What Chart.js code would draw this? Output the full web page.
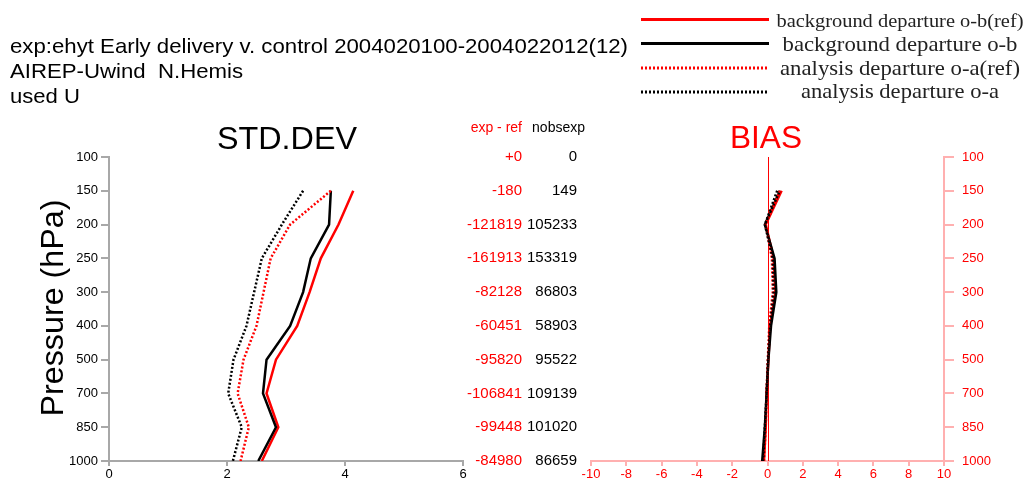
<!DOCTYPE html>
<html lang="en">
<head>
<meta charset="UTF-8">
<title>AIREP-Uwind N.Hemis</title>
<script src="https://cdn.jsdelivr.net/npm/chart.js"></script>
<style>
    body { margin: 0; background: #fff; }
    #wrap { position: relative; width: 1028px; height: 484px; overflow: hidden; }
    #sdChart { position: absolute; left: 0; top: 0; }
    #biasChart { position: absolute; left: 560px; top: 0; }
    #labels { position: absolute; left: 0; top: 0; pointer-events: none; }
    #labels text { white-space: pre; }
</style>
</head>
<body>
<div id="wrap">
    <canvas id="sdChart" width="590" height="484"></canvas>
    <canvas id="biasChart" width="468" height="484"></canvas>
    <svg id="labels" width="1028" height="484" font-family="Liberation Sans, Arial, sans-serif">
        <text x="10" y="53" font-size="21" textLength="618" lengthAdjust="spacingAndGlyphs">exp:ehyt Early delivery v. control 2004020100-2004022012(12)</text>
        <text x="10" y="78" font-size="21" textLength="233" lengthAdjust="spacingAndGlyphs">AIREP-Uwind&#160; N.Hemis</text>
        <text x="10" y="103" font-size="21" textLength="70" lengthAdjust="spacingAndGlyphs">used U</text>

        <line x1="641" y1="19.5" x2="769" y2="19.5" stroke="#ff0000" stroke-width="3"/>
        <line x1="641" y1="43.5" x2="769" y2="43.5" stroke="#000" stroke-width="3"/>
        <line x1="641" y1="68" x2="769" y2="68" stroke="#ff0000" stroke-width="3" stroke-dasharray="2 2"/>
        <line x1="641" y1="92" x2="769" y2="92" stroke="#000" stroke-width="3" stroke-dasharray="2 2"/>
        <g font-family="Liberation Serif, Times New Roman, serif" text-anchor="middle" fill="#222">
            <text x="900" y="27" font-size="19" textLength="247" lengthAdjust="spacingAndGlyphs">background departure o-b(ref)</text>
            <text x="900" y="51" font-size="21" textLength="235" lengthAdjust="spacingAndGlyphs">background departure o-b</text>
            <text x="900" y="75" font-size="21" textLength="240" lengthAdjust="spacingAndGlyphs">analysis departure o-a(ref)</text>
            <text x="900" y="98" font-size="21" textLength="198" lengthAdjust="spacingAndGlyphs">analysis departure o-a</text>
        </g>

        <text x="287" y="149" font-size="32" text-anchor="middle" textLength="140" lengthAdjust="spacingAndGlyphs">STD.DEV</text>
        <text x="766" y="148" font-size="32" text-anchor="middle" fill="#ff0000" textLength="72" lengthAdjust="spacingAndGlyphs">BIAS</text>
        <text transform="translate(63,308) rotate(-90)" font-size="32" text-anchor="middle" textLength="217" lengthAdjust="spacingAndGlyphs">Pressure (hPa)</text>
    </svg>
</div>

<script>
    // pressure levels (top to bottom)
    const levels = ['100', '150', '200', '250', '300', '400', '500', '700', '850', '1000'];

    // standard deviation
    const sdObRef = [null, 4.14, 3.89, 3.59, 3.40, 3.19, 2.83, 2.67, 2.87, 2.59];
    const sdOb    = [null, 3.76, 3.73, 3.42, 3.29, 3.07, 2.67, 2.61, 2.83, 2.53];
    const sdOaRef = [null, 3.76, 3.07, 2.74, 2.62, 2.50, 2.28, 2.18, 2.37, 2.23];
    const sdOa    = [null, 3.29, 2.93, 2.59, 2.46, 2.33, 2.11, 2.02, 2.25, 2.10];

    // bias
    const biasObRef = [null, 0.80, -0.10, 0.35, 0.45, 0.15, 0.05, -0.05, -0.10, -0.20];
    const biasOb    = [null, 0.70, -0.15, 0.40, 0.50, 0.20, 0.05, -0.05, -0.15, -0.30];
    const biasOaRef = [null, 0.70, -0.10, 0.25, 0.30, 0.10, 0.02, -0.05, -0.10, -0.20];
    const biasOa    = [null, 0.55, -0.15, 0.30, 0.35, 0.15, 0.03, -0.05, -0.15, -0.25];

    // observation counts column
    const expMinusRef = ['+0', '-180', '-121819', '-161913', '-82128', '-60451', '-95820', '-106841', '-99448', '-84980'];
    const nobsExp = ['0', '149', '105233', '153319', '86803', '58903', '95522', '109139', '101020', '86659'];

    const RED = '#ff0000';
    const GREY = '#a8a8a8';
    const PINK = '#ffb0b0';
    const tickFont = { family: 'Liberation Sans', size: 13 };

    Chart.defaults.font.family = 'Liberation Sans';

    function toPoints(arr) {
        return arr.map((v, i) => ({ x: v, y: i })).filter(p => p.x !== null);
    }

    function makeSets(obRef, ob, oaRef, oa) {
        const style = (label, data, color, dashed) => ({
            label: label,
            data: toPoints(data),
            borderColor: color,
            borderWidth: 2.5,
            borderDash: dashed ? [2, 2] : [],
            pointRadius: 0,
            tension: 0,
            fill: false
        });
        return [
            style('analysis departure o-a', oa, '#000', true),
            style('analysis departure o-a(ref)', oaRef, RED, true),
            style('background departure o-b', ob, '#000', false),
            style('background departure o-b(ref)', obRef, RED, false)
        ];
    }

    // numbers beside the std.dev panel
    const numbersColumn = {
        id: 'numbersColumn',
        afterDraw(chart) {
            const ctx = chart.ctx;
            const y = chart.scales.y;
            ctx.save();
            ctx.textAlign = 'right';
            ctx.textBaseline = 'middle';
            ctx.font = '14px "Liberation Sans"';
            ctx.fillStyle = RED;
            ctx.fillText('exp - ref', 522, 128);
            ctx.fillStyle = '#000';
            ctx.fillText('nobsexp', 585, 128);
            ctx.font = '15px "Liberation Sans"';
            levels.forEach((lev, i) => {
                const py = y.getPixelForValue(i);
                ctx.fillStyle = RED;
                ctx.fillText(expMinusRef[i], 522, py);
                ctx.fillStyle = '#000';
                ctx.fillText(nobsExp[i], 577, py);
            });
            ctx.restore();
        }
    };

    const zeroLine = {
        id: 'zeroLine',
        beforeDatasetsDraw(chart) {
            const ctx = chart.ctx;
            const a = chart.chartArea;
            const px = Math.round(chart.scales.x.getPixelForValue(0)) + 0.5;
            ctx.save();
            ctx.strokeStyle = RED;
            ctx.lineWidth = 1;
            ctx.beginPath();
            ctx.moveTo(px, a.top);
            ctx.lineTo(px, a.bottom);
            ctx.stroke();
            ctx.restore();
        }
    };

    function levelAxis(position, color, labelColor, width, tickLen, pad) {
        return {
            type: 'linear',
            position: position,
            reverse: true,
            min: 0,
            max: levels.length - 1,
            afterFit: s => { s.width = width; },
            ticks: {
                stepSize: 1,
                color: labelColor,
                font: tickFont,
                padding: pad,
                callback: v => levels[v]
            },
            grid: { drawOnChartArea: false, drawTicks: true, tickLength: tickLen, color: color, lineWidth: 2 },
            border: { color: color, width: 2 }
        };
    }

    new Chart(document.getElementById('sdChart'), {
        type: 'line',
        data: { datasets: makeSets(sdObRef, sdOb, sdOaRef, sdOa) },
        options: {
            responsive: false,
            animation: false,
            devicePixelRatio: 1,
            layout: { padding: { left: 0, top: 157, right: 127, bottom: 0 } },
            plugins: { legend: { display: false }, tooltip: { enabled: false } },
            scales: {
                x: {
                    type: 'linear',
                    min: 0,
                    max: 6,
                    afterFit: s => { s.height = 23; },
                    ticks: { stepSize: 2, color: '#000', font: tickFont, padding: 1 },
                    grid: { drawOnChartArea: false, tickLength: 5, color: GREY, lineWidth: 2 },
                    border: { color: GREY, width: 2 }
                },
                y: levelAxis('left', GREY, '#000', 109, 8, 3)
            }
        },
        plugins: [numbersColumn]
    });

    new Chart(document.getElementById('biasChart'), {
        type: 'line',
        data: { datasets: makeSets(biasObRef, biasOb, biasOaRef, biasOa) },
        options: {
            responsive: false,
            animation: false,
            devicePixelRatio: 1,
            layout: { padding: { left: 31, top: 157, right: 0, bottom: 0 } },
            plugins: { legend: { display: false }, tooltip: { enabled: false } },
            scales: {
                x: {
                    type: 'linear',
                    min: -10,
                    max: 10,
                    afterFit: s => { s.height = 23; },
                    ticks: { stepSize: 2, color: RED, font: tickFont, padding: 1 },
                    grid: { drawOnChartArea: false, tickLength: 5, color: PINK, lineWidth: 2 },
                    border: { color: PINK, width: 2 }
                },
                y: levelAxis('right', PINK, RED, 84, 10, 8)
            }
        },
        plugins: [zeroLine]
    });
</script>
</body>
</html>
